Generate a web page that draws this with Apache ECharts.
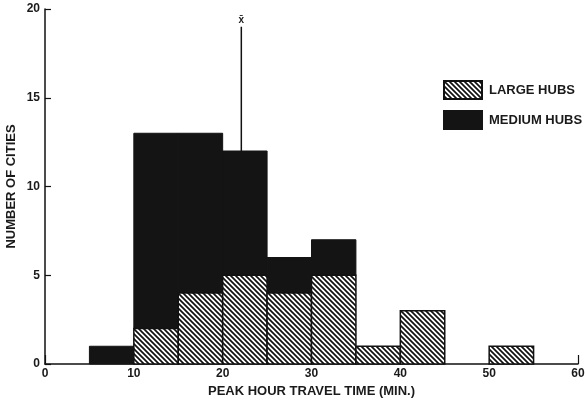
<!DOCTYPE html>
<html>
<head>
<meta charset="utf-8">
<style>
  html, body { margin: 0; padding: 0; background: #fff; }
  #chart { width: 585px; height: 406px; }
</style>
<script src="https://cdn.jsdelivr.net/npm/echarts@6/dist/echarts.min.js"></script>
</head>
<body>
<div id="chart"></div>
<script>
// Histogram bins (minutes): each bin starts at binStart and is binWidth wide
const binWidth = 5;
const binStart   = [5, 10, 15, 20, 25, 30, 35, 40, 50];
const largeHubs  = [0,  2,  4,  5,  4,  5,  1,  3,  1];
const mediumHubs = [1, 11,  9,  7,  2,  2,  0,  0,  0];
const meanTravelTime = 22.1;
const meanLineTop = 19;
const seriesNames = ['LARGE HUBS', 'MEDIUM HUBS'];

const FONT = 'Liberation Sans, Arial, sans-serif';
const INK = '#1a1a1a';

// diagonal hatch tile for the large-hub bars
function hatchPattern() {
  const p = 5;
  const c = document.createElement('canvas');
  c.width = p; c.height = p;
  const g = c.getContext('2d');
  g.fillStyle = '#fff';
  g.fillRect(0, 0, p, p);
  g.strokeStyle = '#111';
  g.lineWidth = 1.7;
  g.beginPath();
  g.moveTo(-1, -1); g.lineTo(p + 1, p + 1);
  g.moveTo(p - 1, -1); g.lineTo(p + 1, 1);
  g.moveTo(-1, p - 1); g.lineTo(1, p + 1);
  g.stroke();
  return { image: c, repeat: 'repeat' };
}
const hatch = hatchPattern();

// stacked rows: [start, bottom, top]
const largeRows = [], mediumRows = [];
binStart.forEach((s, i) => {
  if (largeHubs[i] > 0) largeRows.push([s, 0, largeHubs[i]]);
  if (mediumHubs[i] > 0) mediumRows.push([s, largeHubs[i], largeHubs[i] + mediumHubs[i]]);
});

function binRect(params, api) {
  const s = api.value(0);
  const p0 = api.coord([s, api.value(1)]);
  const p1 = api.coord([s + binWidth, api.value(2)]);
  return {
    type: 'rect',
    shape: { x: p0[0], y: p1[1], width: p1[0] - p0[0], height: p0[1] - p1[1] },
    style: api.style()
  };
}

const chart = echarts.init(document.getElementById('chart'), null, { renderer: 'canvas' });
chart.setOption({
  animation: false,
  backgroundColor: '#fff',
  grid: { left: 45, right: 7, top: 9, bottom: 42, containLabel: false, outerBoundsMode: 'none' },
  legend: {
    orient: 'vertical',
    left: 443, top: 80,
    padding: 0,
    itemWidth: 38, itemHeight: 18, itemGap: 10,
    icon: 'rect',
    data: seriesNames,
    selectedMode: false,
    textStyle: { fontFamily: FONT, fontWeight: 'bold', fontSize: 13, color: INK, padding: [0, 0, 0, 2] }
  },
  xAxis: [{
    type: 'value', min: 0, max: 60, interval: 10,
    name: 'PEAK HOUR TRAVEL TIME (MIN.)',
    nameLocation: 'middle', nameGap: 12,
    nameTextStyle: { fontFamily: FONT, fontWeight: 'bold', fontSize: 13, color: INK },
    axisLine: { show: true, lineStyle: { color: '#111', width: 1.5 } },
    axisTick: { show: false },
    axisLabel: { fontFamily: FONT, fontWeight: 'bold', fontSize: 12, color: INK, margin: 4 },
    splitLine: { show: false }
  }, {
    // end tick of the time axis
    type: 'value', min: 0, max: 60, interval: 60, position: 'bottom',
    axisLine: { show: false },
    axisTick: { show: true, inside: true, length: 9, lineStyle: { color: '#111', width: 1.2 } },
    axisLabel: { show: false },
    splitLine: { show: false }
  }],
  yAxis: {
    type: 'value', min: 0, max: 20, interval: 5,
    name: 'NUMBER OF CITIES',
    nameLocation: 'middle', nameGap: 27, nameRotate: 90, nameMoveOverlap: false,
    nameTextStyle: { fontFamily: FONT, fontWeight: 'bold', fontSize: 13, color: INK },
    axisLine: { show: true, lineStyle: { color: '#111', width: 1.5 } },
    axisTick: { show: true, inside: true, length: 6, lineStyle: { color: '#111', width: 1.2 } },
    axisLabel: { fontFamily: FONT, fontWeight: 'bold', fontSize: 12, color: INK, margin: 5 },
    splitLine: { show: false }
  },
  series: [
    {
      name: 'mean', type: 'custom',
      encode: { x: 0, y: 1 },
      data: [[meanTravelTime, meanLineTop]],
      z: 1,
      renderItem: function (params, api) {
        const top = api.coord([api.value(0), api.value(1)]);
        const base = api.coord([api.value(0), 0]);
        return {
          type: 'group',
          children: [
            { type: 'line', shape: { x1: top[0], y1: top[1], x2: base[0], y2: base[1] },
              style: { stroke: '#111', lineWidth: 1.5 } },
            { type: 'text', x: top[0], y: top[1] - 2,
              style: { text: 'x\u0304', font: 'bold 10px ' + FONT, fill: INK, align: 'center', verticalAlign: 'bottom' } }
          ]
        };
      }
    },
    {
      name: seriesNames[0], type: 'custom', renderItem: binRect,
      encode: { x: 0, y: [1, 2] },
      itemStyle: { color: hatch, borderColor: '#111', borderWidth: 1.5 },
      data: largeRows, z: 3
    },
    {
      name: seriesNames[1], type: 'custom', renderItem: binRect,
      encode: { x: 0, y: [1, 2] },
      itemStyle: { color: '#141414', borderColor: '#141414', borderWidth: 1 },
      data: mediumRows, z: 2
    }
  ]
});
</script>
</body>
</html>
